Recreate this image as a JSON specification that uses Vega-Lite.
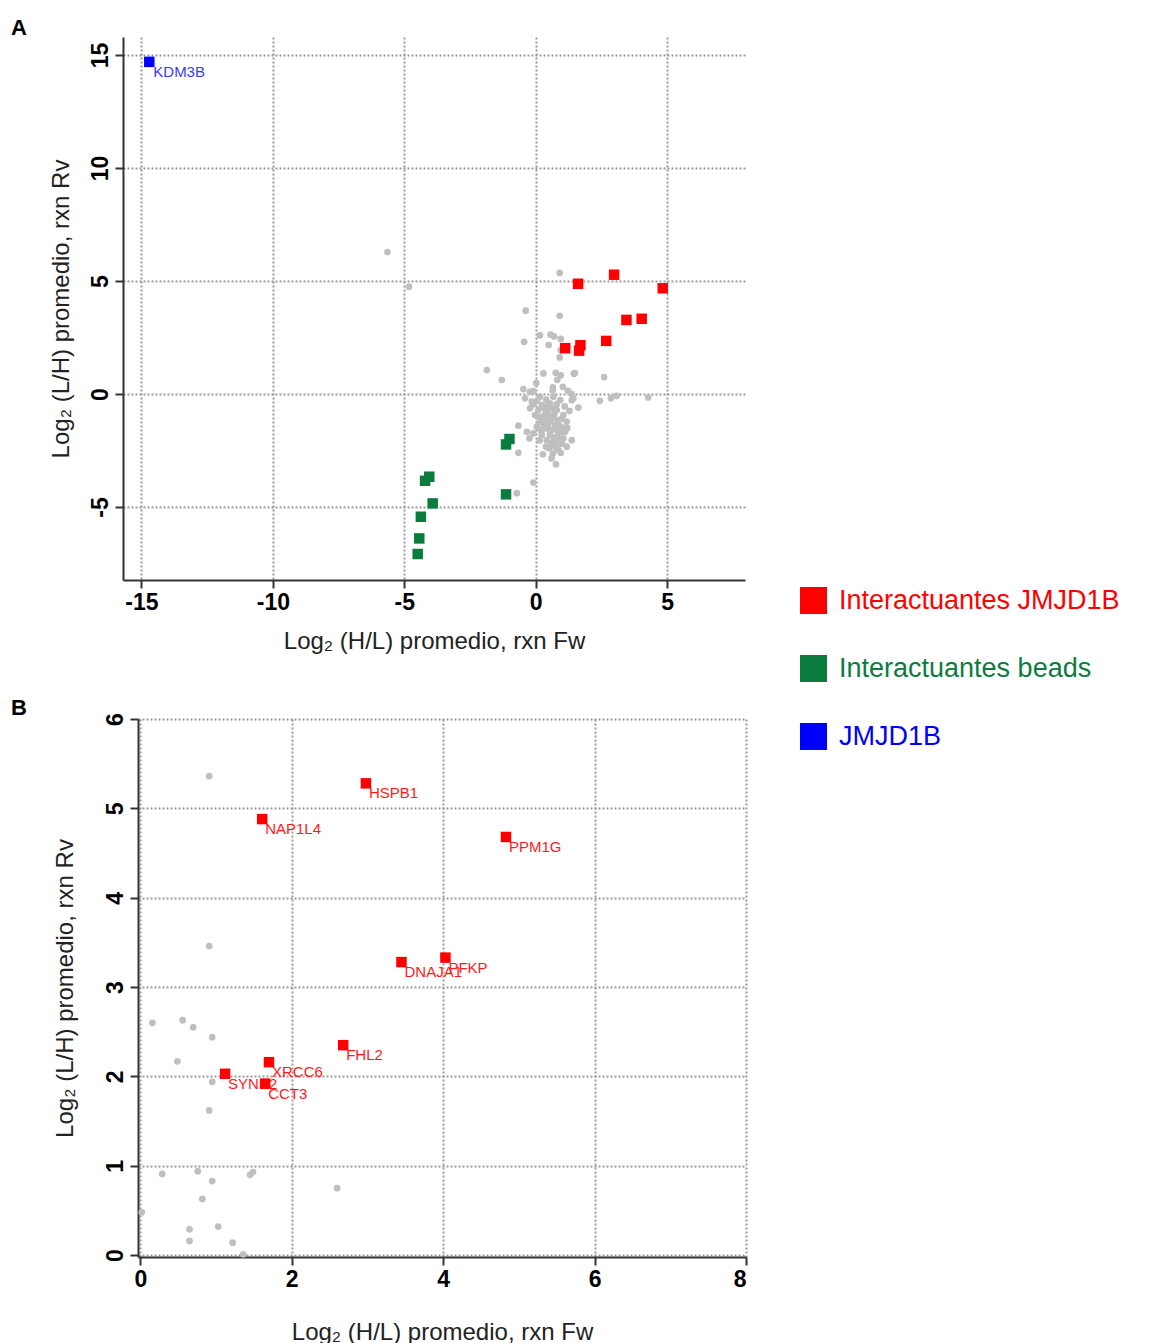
{
  "$schema": "https://vega.github.io/schema/vega-lite/v6.json",
  "padding": {"left": 11, "top": 17, "right": 5, "bottom": 0},
  "background": "white",
  "datasets": {
    "pts": [
      {"x": 0.91, "y": 5.36, "group": "otros", "label": ""},
      {"x": 0.91, "y": 3.46, "group": "otros", "label": ""},
      {"x": 0.16, "y": 2.60, "group": "otros", "label": ""},
      {"x": 0.56, "y": 2.63, "group": "otros", "label": ""},
      {"x": 0.70, "y": 2.55, "group": "otros", "label": ""},
      {"x": 0.95, "y": 2.44, "group": "otros", "label": ""},
      {"x": 0.49, "y": 2.17, "group": "otros", "label": ""},
      {"x": 0.95, "y": 1.94, "group": "otros", "label": ""},
      {"x": 0.91, "y": 1.62, "group": "otros", "label": ""},
      {"x": 0.29, "y": 0.91, "group": "otros", "label": ""},
      {"x": 0.76, "y": 0.94, "group": "otros", "label": ""},
      {"x": 1.45, "y": 0.90, "group": "otros", "label": ""},
      {"x": 1.49, "y": 0.93, "group": "otros", "label": ""},
      {"x": 0.95, "y": 0.83, "group": "otros", "label": ""},
      {"x": 0.82, "y": 0.63, "group": "otros", "label": ""},
      {"x": 2.60, "y": 0.75, "group": "otros", "label": ""},
      {"x": 0.02, "y": 0.48, "group": "otros", "label": ""},
      {"x": 0.65, "y": 0.29, "group": "otros", "label": ""},
      {"x": 1.03, "y": 0.32, "group": "otros", "label": ""},
      {"x": 0.65, "y": 0.16, "group": "otros", "label": ""},
      {"x": 1.22, "y": 0.14, "group": "otros", "label": ""},
      {"x": 1.36, "y": 0.01, "group": "otros", "label": ""},
      {"x": -5.64, "y": 6.28, "group": "otros", "label": ""},
      {"x": -4.82, "y": 4.75, "group": "otros", "label": ""},
      {"x": -0.38, "y": 3.69, "group": "otros", "label": ""},
      {"x": -0.44, "y": 2.31, "group": "otros", "label": ""},
      {"x": -1.86, "y": 1.06, "group": "otros", "label": ""},
      {"x": -1.29, "y": 0.62, "group": "otros", "label": ""},
      {"x": -0.47, "y": 0.22, "group": "otros", "label": ""},
      {"x": -0.22, "y": 0.10, "group": "otros", "label": ""},
      {"x": -0.09, "y": 0.13, "group": "otros", "label": ""},
      {"x": 2.44, "y": -0.30, "group": "otros", "label": ""},
      {"x": 2.86, "y": -0.19, "group": "otros", "label": ""},
      {"x": 3.08, "y": -0.08, "group": "otros", "label": ""},
      {"x": 4.28, "y": -0.15, "group": "otros", "label": ""},
      {"x": 1.37, "y": -0.27, "group": "otros", "label": ""},
      {"x": 1.62, "y": -0.60, "group": "otros", "label": ""},
      {"x": 1.28, "y": -0.75, "group": "otros", "label": ""},
      {"x": -0.41, "y": -0.19, "group": "otros", "label": ""},
      {"x": -0.15, "y": -0.34, "group": "otros", "label": ""},
      {"x": 0.16, "y": -0.12, "group": "otros", "label": ""},
      {"x": 0.67, "y": -0.12, "group": "otros", "label": ""},
      {"x": 0.93, "y": -0.27, "group": "otros", "label": ""},
      {"x": 0.23, "y": -0.49, "group": "otros", "label": ""},
      {"x": 0.54, "y": -0.41, "group": "otros", "label": ""},
      {"x": -0.22, "y": -0.63, "group": "otros", "label": ""},
      {"x": 0.10, "y": -0.71, "group": "otros", "label": ""},
      {"x": 0.42, "y": -0.78, "group": "otros", "label": ""},
      {"x": 0.80, "y": -0.71, "group": "otros", "label": ""},
      {"x": 1.05, "y": -0.93, "group": "otros", "label": ""},
      {"x": -0.03, "y": -0.93, "group": "otros", "label": ""},
      {"x": 0.29, "y": -1.00, "group": "otros", "label": ""},
      {"x": 0.61, "y": -1.08, "group": "otros", "label": ""},
      {"x": 0.86, "y": -1.15, "group": "otros", "label": ""},
      {"x": 1.18, "y": -1.22, "group": "otros", "label": ""},
      {"x": 0.16, "y": -1.22, "group": "otros", "label": ""},
      {"x": 0.48, "y": -1.30, "group": "otros", "label": ""},
      {"x": 0.74, "y": -1.37, "group": "otros", "label": ""},
      {"x": 0.99, "y": -1.45, "group": "otros", "label": ""},
      {"x": -0.66, "y": -1.40, "group": "otros", "label": ""},
      {"x": 0.04, "y": -1.45, "group": "otros", "label": ""},
      {"x": 0.35, "y": -1.52, "group": "otros", "label": ""},
      {"x": 0.61, "y": -1.59, "group": "otros", "label": ""},
      {"x": 0.86, "y": -1.67, "group": "otros", "label": ""},
      {"x": 1.12, "y": -1.67, "group": "otros", "label": ""},
      {"x": -0.34, "y": -1.67, "group": "otros", "label": ""},
      {"x": -0.09, "y": -1.74, "group": "otros", "label": ""},
      {"x": 0.23, "y": -1.81, "group": "otros", "label": ""},
      {"x": 0.54, "y": -1.81, "group": "otros", "label": ""},
      {"x": 0.80, "y": -1.89, "group": "otros", "label": ""},
      {"x": 1.05, "y": -1.96, "group": "otros", "label": ""},
      {"x": 1.37, "y": -2.04, "group": "otros", "label": ""},
      {"x": -0.24, "y": -1.96, "group": "otros", "label": ""},
      {"x": 0.42, "y": -2.04, "group": "otros", "label": ""},
      {"x": 0.67, "y": -2.11, "group": "otros", "label": ""},
      {"x": 0.93, "y": -2.18, "group": "otros", "label": ""},
      {"x": 1.18, "y": -2.33, "group": "otros", "label": ""},
      {"x": 0.39, "y": -2.33, "group": "otros", "label": ""},
      {"x": 0.74, "y": -2.33, "group": "otros", "label": ""},
      {"x": 0.86, "y": -2.48, "group": "otros", "label": ""},
      {"x": 0.27, "y": -2.67, "group": "otros", "label": ""},
      {"x": 0.65, "y": -2.63, "group": "otros", "label": ""},
      {"x": -0.66, "y": -2.60, "group": "otros", "label": ""},
      {"x": 0.77, "y": -3.11, "group": "otros", "label": ""},
      {"x": -0.09, "y": -3.92, "group": "otros", "label": ""},
      {"x": -0.72, "y": -4.39, "group": "otros", "label": ""},
      {"x": 1.43, "y": -0.19, "group": "otros", "label": ""},
      {"x": 0.30, "y": -0.60, "group": "otros", "label": ""},
      {"x": 0.45, "y": -0.55, "group": "otros", "label": ""},
      {"x": 0.62, "y": -0.65, "group": "otros", "label": ""},
      {"x": 0.35, "y": -0.90, "group": "otros", "label": ""},
      {"x": 0.50, "y": -0.95, "group": "otros", "label": ""},
      {"x": 0.70, "y": -0.90, "group": "otros", "label": ""},
      {"x": 0.40, "y": -1.15, "group": "otros", "label": ""},
      {"x": 0.55, "y": -1.20, "group": "otros", "label": ""},
      {"x": 0.68, "y": -1.05, "group": "otros", "label": ""},
      {"x": 0.85, "y": -1.35, "group": "otros", "label": ""},
      {"x": 0.30, "y": -1.35, "group": "otros", "label": ""},
      {"x": 0.45, "y": -1.45, "group": "otros", "label": ""},
      {"x": 0.75, "y": -1.55, "group": "otros", "label": ""},
      {"x": 0.95, "y": -1.70, "group": "otros", "label": ""},
      {"x": 0.55, "y": -1.70, "group": "otros", "label": ""},
      {"x": 0.70, "y": -1.95, "group": "otros", "label": ""},
      {"x": 0.85, "y": -2.00, "group": "otros", "label": ""},
      {"x": 1.00, "y": -2.20, "group": "otros", "label": ""},
      {"x": 0.60, "y": -2.20, "group": "otros", "label": ""},
      {"x": 0.50, "y": -2.40, "group": "otros", "label": ""},
      {"x": 0.20, "y": -1.60, "group": "otros", "label": ""},
      {"x": 0.10, "y": -1.00, "group": "otros", "label": ""},
      {"x": 0.05, "y": -0.30, "group": "otros", "label": ""},
      {"x": 0.40, "y": -0.25, "group": "otros", "label": ""},
      {"x": -0.10, "y": -0.45, "group": "otros", "label": ""},
      {"x": 0.80, "y": -0.45, "group": "otros", "label": ""},
      {"x": 1.10, "y": -0.55, "group": "otros", "label": ""},
      {"x": 1.20, "y": -1.50, "group": "otros", "label": ""},
      {"x": 1.00, "y": -1.10, "group": "otros", "label": ""},
      {"x": 0.15, "y": -2.05, "group": "otros", "label": ""},
      {"x": 0.95, "y": -2.60, "group": "otros", "label": ""},
      {"x": 0.60, "y": -2.85, "group": "otros", "label": ""},
      {"x": 2.98, "y": 5.28, "group": "Interactuantes JMJD1B", "label": "HSPB1"},
      {"x": 1.61, "y": 4.88, "group": "Interactuantes JMJD1B", "label": "NAP1L4"},
      {"x": 4.83, "y": 4.68, "group": "Interactuantes JMJD1B", "label": "PPM1G"},
      {"x": 3.45, "y": 3.28, "group": "Interactuantes JMJD1B", "label": "DNAJA1"},
      {"x": 4.03, "y": 3.33, "group": "Interactuantes JMJD1B", "label": "PFKP"},
      {"x": 2.68, "y": 2.35, "group": "Interactuantes JMJD1B", "label": "FHL2"},
      {"x": 1.70, "y": 2.16, "group": "Interactuantes JMJD1B", "label": "XRCC6"},
      {"x": 1.12, "y": 2.03, "group": "Interactuantes JMJD1B", "label": "SYNE2"},
      {"x": 1.65, "y": 1.92, "group": "Interactuantes JMJD1B", "label": "CCT3"},
      {"x": -1.00, "y": -1.99, "group": "Interactuantes beads", "label": ""},
      {"x": -1.13, "y": -2.23, "group": "Interactuantes beads", "label": ""},
      {"x": -1.13, "y": -4.44, "group": "Interactuantes beads", "label": ""},
      {"x": -4.05, "y": -3.66, "group": "Interactuantes beads", "label": ""},
      {"x": -4.21, "y": -3.84, "group": "Interactuantes beads", "label": ""},
      {"x": -3.92, "y": -4.84, "group": "Interactuantes beads", "label": ""},
      {"x": -4.37, "y": -5.43, "group": "Interactuantes beads", "label": ""},
      {"x": -4.43, "y": -6.39, "group": "Interactuantes beads", "label": ""},
      {"x": -4.49, "y": -7.08, "group": "Interactuantes beads", "label": ""},
      {"x": -14.7, "y": 14.7, "group": "JMJD1B", "label": "KDM3B"}
    ]
  },
  "config": {
    "view": {"stroke": null},
    "axis": {
      "domainColor": "#333333",
      "domainWidth": 2,
      "tickColor": "#333333",
      "tickWidth": 2,
      "tickSize": 8,
      "labelFont": "Liberation Sans",
      "labelFontWeight": "bold",
      "labelFontSize": 23,
      "labelColor": "#000000",
      "labelExpr": "replace(datum.label, '−', '-')",
      "titleFont": "Liberation Sans",
      "titleFontWeight": "normal",
      "titleFontSize": 24,
      "titleColor": "#222222",
      "gridColor": "#9a9a9a",
      "gridDash": [2, 2],
      "gridWidth": 2,
      "gridOpacity": 1
    },
    "title": {"font": "Liberation Sans", "fontSize": 22, "fontWeight": "bold", "color": "#000000", "anchor": "start", "frame": "group", "baseline": "alphabetic"}
  },
  "vconcat": [
    {
      "title": {"text": "A", "dx": -112, "offset": -3},
      "width": 622,
      "height": 543,
      "data": {"name": "pts"},
      "encoding": {
        "x": {"field": "x", "type": "quantitative", "scale": {"domain": [-15.7, 7.96], "nice": false, "zero": false},
          "axis": {"values": [-15, -10, -5, 0, 5], "title": "Log₂ (H/L) promedio, rxn Fw", "labelPadding": 3, "titlePadding": 15}},
        "y": {"field": "y", "type": "quantitative", "scale": {"domain": [-8.23, 15.8], "nice": false, "zero": false},
          "axis": {"values": [-5, 0, 5, 10, 15], "title": "Log₂ (L/H) promedio, rxn Rv", "labelAngle": -90, "labelPadding": 3, "titlePadding": 16}}
      },
      "layer": [
        {"transform": [{"filter": "datum.group == 'otros'"}], "mark": {"type": "circle", "size": 45, "color": "#bfbfbf", "opacity": 1}},
        {"transform": [{"filter": "datum.group == 'JMJD1B'"}], "mark": {"type": "text", "align": "left", "baseline": "middle", "dx": 4, "dy": 10, "fontSize": 15, "font": "Liberation Sans", "color": "#3a3aff"},
          "encoding": {"text": {"field": "label"}}},
        {"transform": [{"filter": "datum.group != 'otros'"}], "mark": {"type": "square", "size": 110, "opacity": 1},
          "encoding": {"color": {"field": "group", "type": "nominal",
            "scale": {"domain": ["Interactuantes JMJD1B", "Interactuantes beads", "JMJD1B"], "range": ["#ff0000", "#0a7d3e", "#0000ff"]},
            "legend": {"title": null, "orient": "none", "legendX": 677, "legendY": 550, "symbolType": "square", "symbolSize": 729, "symbolStrokeWidth": 0, "symbolOpacity": 1, "labelFont": "Liberation Sans", "labelFontSize": 27, "labelOffset": 12, "rowPadding": 40, "labelLimit": 500,
              "labelColor": {"expr": "datum.label == 'JMJD1B' ? '#0000ff' : (datum.label == 'Interactuantes beads' ? '#0a7d3e' : '#ff0000')"}}}}}
      ]
    },
    {"hconcat": [
      {"width": 1, "height": 538, "data": {"values": []}, "mark": "point"},
      {
        "title": {"text": "B", "dx": -127, "offset": -7},
        "width": 608,
        "height": 538,
        "data": {"name": "pts"},
        "transform": [{"filter": "datum.x >= 0 && datum.x <= 8 && datum.y >= 0 && datum.y <= 6"}],
        "encoding": {
          "x": {"field": "x", "type": "quantitative", "scale": {"domain": [-0.03, 8.0], "nice": false, "zero": false},
            "axis": {"values": [0, 2, 4, 6, 8], "title": "Log₂ (H/L) promedio, rxn Fw", "labelPadding": 3, "titlePadding": 29}},
          "y": {"field": "y", "type": "quantitative", "scale": {"domain": [-0.02, 6.0], "nice": false, "zero": false},
            "axis": {"values": [0, 1, 2, 3, 4, 5, 6], "title": "Log₂ (L/H) promedio, rxn Rv", "labelAngle": -90, "labelPadding": 3, "titlePadding": 27}}
        },
        "layer": [
          {"transform": [{"filter": "datum.group == 'otros'"}], "mark": {"type": "circle", "size": 45, "color": "#bfbfbf", "opacity": 1}},
          {"transform": [{"filter": "datum.group == 'Interactuantes JMJD1B'"}], "mark": {"type": "text", "align": "left", "baseline": "middle", "dx": 3, "dy": 10, "fontSize": 15, "font": "Liberation Sans", "color": "#ff1a1a"},
            "encoding": {"text": {"field": "label"}}},
          {"transform": [{"filter": "datum.group != 'otros'"}], "mark": {"type": "square", "size": 110, "opacity": 1},
            "encoding": {"color": {"field": "group", "type": "nominal",
              "scale": {"domain": ["Interactuantes JMJD1B", "Interactuantes beads", "JMJD1B"], "range": ["#ff0000", "#0a7d3e", "#0000ff"]},
              "legend": null}}}
        ]
      }
    ], "spacing": 14, "bounds": "flush"}
  ],
  "spacing": 43
}
